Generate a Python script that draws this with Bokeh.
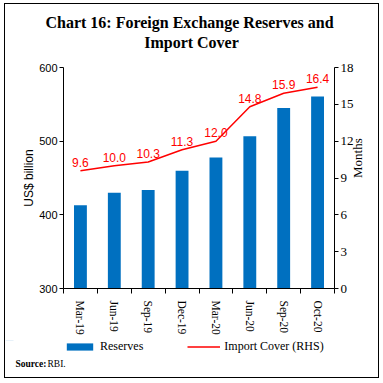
import math
from bokeh.plotting import figure
from bokeh.layouts import column
from bokeh.models import Range1d, LinearAxis, FixedTicker, Label, Legend, LegendItem, ColumnDataSource
from bokeh.core.properties import value
from bokeh.embed import file_html
from bokeh.resources import INLINE

categories = ["Mar-19", "Jun-19", "Sep-19", "Dec-19", "Mar-20", "Jun-20", "Sep-20", "Oct-20"]
reserves = [412.9, 429.9, 433.7, 459.9, 477.8, 506.8, 545.0, 560.5]
import_cover = [9.6, 10.0, 10.3, 11.3, 12.0, 14.8, 15.9, 16.4]
left_ticks = [300, 400, 500, 600]
right_ticks = [0, 3, 6, 9, 12, 15, 18]
title_lines = ["Chart 16: Foreign Exchange Reserves and", "Import Cover"]

xs = [i + 0.5 for i in range(len(categories))]
bounds = list(range(len(categories) + 1))
src = ColumnDataSource(dict(x=xs, cat=categories, res=reserves, cov=import_cover,
                            lab=[f"{v:.1f}" for v in import_cover]))

SERIF = "Liberation Serif"
SANS = "Liberation Sans"
BLUE = "#0070C0"
RED = "#FF0000"
W = 373


def strip_fig(h):
    f = figure(width=W, height=h, output_backend="svg", toolbar_location=None,
               x_range=Range1d(0, W), y_range=Range1d(0, h),
               x_axis_type=None, y_axis_type=None, min_border=0)
    f.outline_line_color = None
    try:
        f.frame_align = False
    except Exception:
        pass
    return f


# ---- title strip
tf = strip_fig(52)
tf.add_layout(Label(x=184, y=34, x_units="screen", y_units="screen", text=title_lines[0],
                    text_font=SERIF, text_font_style="bold", text_font_size="16px",
                    text_align="center", text_baseline="middle", text_color="black"))
tf.add_layout(Label(x=186, y=14, x_units="screen", y_units="screen", text=title_lines[1],
                    text_font=SERIF, text_font_style="bold", text_font_size="16px",
                    text_align="center", text_baseline="middle", text_color="black"))

# ---- main chart
p = figure(width=W, height=284, output_backend="svg", toolbar_location=None,
           x_range=Range1d(0, len(categories)), y_range=Range1d(300, 600),
           min_border_left=58, min_border_right=44, min_border_top=11, min_border_bottom=52)
p.extra_y_ranges = {"rhs": Range1d(0, 18)}
p.outline_line_color = None
p.xgrid.visible = False
p.ygrid.visible = False

bars = p.vbar(x="x", top="res", bottom=300, width=0.38, source=src,
              fill_color=BLUE, line_color=None)
line = p.line(x="x", y="cov", source=src, y_range_name="rhs", line_color=RED, line_width=1.5)
p.text(x="x", y="cov", text="lab", source=src, y_range_name="rhs",
       text_color=RED, text_font=value(SANS), text_font_size="12px",
       text_align="center", text_baseline="bottom", y_offset=-4)

ya = p.yaxis[0]
ya.ticker = FixedTicker(ticks=left_ticks)
ya.axis_label = "US$ billion"
ya.axis_label_text_font = SANS
ya.axis_label_text_font_style = "normal"
ya.axis_label_text_font_size = "12px"
ya.axis_label_text_color = "black"
ya.axis_label_standoff = 0
ya.major_label_text_font = SANS
ya.major_label_text_font_size = "11px"
ya.major_label_text_color = "black"
ya.major_tick_out = 4
ya.major_tick_in = 0
ya.minor_tick_line_color = None
ya.major_label_standoff = 2
ya.axis_line_color = "black"
ya.major_tick_line_color = "black"

ra = LinearAxis(y_range_name="rhs", ticker=FixedTicker(ticks=right_ticks))
ra.axis_label = "Months"
ra.axis_label_orientation = math.pi / 2
ra.axis_label_text_font = SERIF
ra.axis_label_text_font_style = "normal"
ra.axis_label_text_font_size = "13px"
ra.axis_label_text_color = "black"
ra.axis_label_standoff = 1
ra.major_label_text_font = SERIF
ra.major_label_text_font_size = "13px"
ra.major_label_text_color = "black"
ra.major_tick_out = 4
ra.major_tick_in = 0
ra.minor_tick_line_color = None
ra.major_label_standoff = 2
ra.axis_line_color = "black"
ra.major_tick_line_color = "black"
p.add_layout(ra, "right")

xa = p.xaxis[0]
xa.ticker = FixedTicker(ticks=xs, minor_ticks=bounds)
xa.major_label_overrides = {x: c for x, c in zip(xs, categories)}
xa.major_label_orientation = "vertical"
xa.major_label_text_font = SERIF
xa.major_label_text_font_size = "11.5px"
xa.major_label_text_color = "black"
xa.major_tick_out = 0
xa.major_tick_in = 0
xa.minor_tick_out = 5
xa.minor_tick_in = 0
xa.minor_tick_line_color = "black"
xa.axis_line_color = "black"
xa.major_label_standoff = 7

# ---- legend + source strip
lf = strip_fig(37)
# stand-in renderers (their data lies outside this strip's ranges, only their styling is shown in the legend)
lbar = lf.vbar(x="x", top="res", bottom=300, width=0.38, source=src, fill_color=BLUE, line_color=None)
lline = lf.line(x="x", y="res", source=src, line_color=RED, line_width=1.5)
legend = Legend(items=[LegendItem(label="Reserves", renderers=[lbar]),
                       LegendItem(label="Import Cover (RHS)", renderers=[lline])],
                orientation="horizontal", location=(58, 23.5),
                glyph_width=33, glyph_height=9, label_height=9,
                label_standoff=4, spacing=44, padding=0, margin=0,
                label_text_font=SERIF, label_text_font_size="12px",
                label_text_color="black",
                border_line_color=None, background_fill_alpha=0)
lf.add_layout(legend, "center")
lf.add_layout(Label(x=10, y=14, x_units="screen", y_units="screen",
                    text="Source:", text_font=SERIF, text_font_style="bold",
                    text_font_size="9.5px", text_baseline="middle", text_color="black"))
lf.add_layout(Label(x=42, y=14, x_units="screen", y_units="screen",
                    text="RBI.", text_font=SERIF,
                    text_font_size="9.5px", text_baseline="middle", text_color="black"))

layout = column(tf, p, lf, spacing=0,
                styles={"position": "relative", "left": "5px", "top": "4px",
                        "outline": "1px solid black"})

open("out.html", "w").write(file_html(layout, INLINE))
